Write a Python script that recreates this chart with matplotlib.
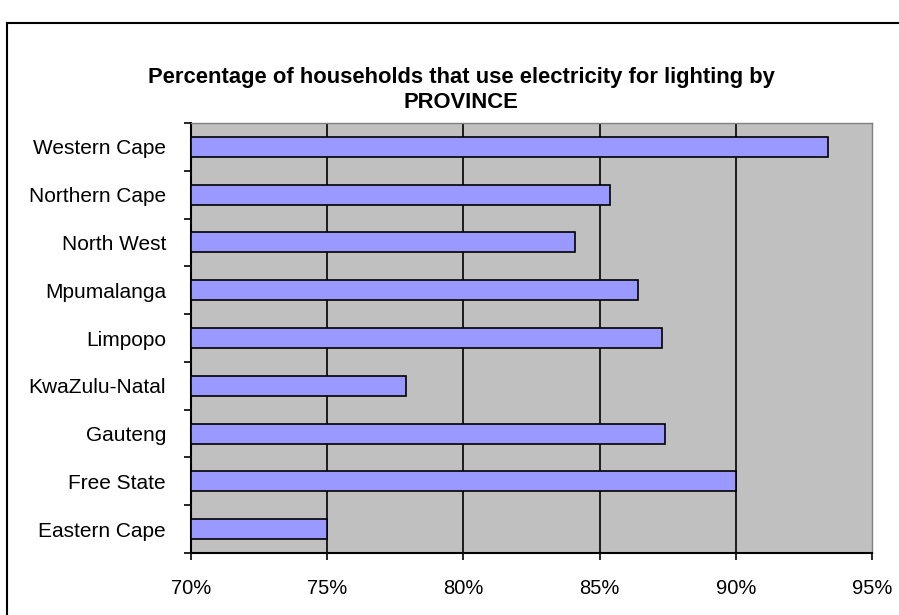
import matplotlib
matplotlib.use("Agg")
import matplotlib.pyplot as plt
from matplotlib.lines import Line2D
import numpy as np

provinces = ["Eastern Cape", "Free State", "Gauteng", "KwaZulu-Natal", "Limpopo",
             "Mpumalanga", "North West", "Northern Cape", "Western Cape"]
values = [75.0, 90.0, 87.4, 77.9, 87.3, 86.4, 84.1, 85.4, 93.4]
xticks = [70, 75, 80, 85, 90, 95]
xtick_labels = ["70%", "75%", "80%", "85%", "90%", "95%"]
title = "Percentage of households that use electricity for lighting by\nPROVINCE"

W, H = 899, 615
fig = plt.figure(figsize=(W / 100, H / 100), dpi=100)
plt.rcParams['font.family'] = ['Liberation Sans', 'DejaVu Sans']

# plot area in pixels
left, right, top, bottom = 191, 872, 123, 553
ax = fig.add_axes([left / W, 1 - bottom / H, (right - left) / W, (bottom - top) / H])
ax.set_facecolor("#C0C0C0")

y = np.arange(len(provinces))
ax.barh(y, [v - 70 for v in values], left=70, height=0.42, color="#9999FF",
        edgecolor="black", linewidth=1.2, zorder=3)

ax.set_xlim(70, 95)
ax.set_ylim(-0.5, len(provinces) - 0.5)
ax.set_xticks(xticks)
ax.set_xticklabels(xtick_labels, fontsize=14.5)
for xv in xticks[1:-1]:
    ax.axvline(xv, color="black", linewidth=1.2, zorder=1)

ax.set_yticks(y)
ax.set_yticklabels(provinces, fontsize=15)
ax.tick_params(axis="y", length=0, pad=18)
ax.set_yticks(np.arange(-0.5, len(provinces), 1.0), minor=True)
ax.tick_params(axis="y", which="minor", length=5, width=1.2, direction="out")
ax.tick_params(axis="x", length=5, width=1.2, direction="out", pad=13.5)

for s in ["left", "bottom"]:
    ax.spines[s].set_color("black")
    ax.spines[s].set_linewidth(1.5)
for s in ["top", "right"]:
    ax.spines[s].set_color("#808080")
    ax.spines[s].set_linewidth(1.0)

fig.text(461 / W, 1 - 90 / H, title, ha="center", va="center", fontsize=15.8,
         fontweight="bold", linespacing=1.25)

# outer chart border
fig.add_artist(Line2D([7 / W, 1.0], [1 - 23 / H, 1 - 23 / H], color="black", linewidth=1.5))
fig.add_artist(Line2D([7 / W, 7 / W], [1 - 23 / H, 0.0], color="black", linewidth=1.5))

fig.savefig("out.png", dpi=100)
